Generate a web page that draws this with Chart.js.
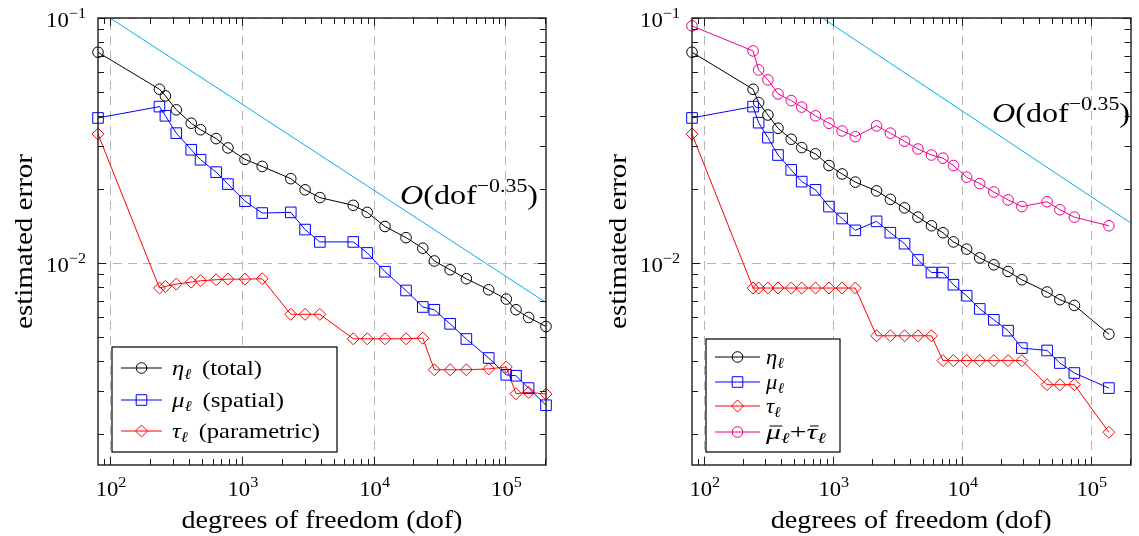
<!DOCTYPE html>
<html>
<head>
<meta charset="utf-8">
<script src="https://cdn.jsdelivr.net/npm/chart.js@4.4.1/dist/chart.umd.min.js"></script>
<style>
  html, body { margin: 0; padding: 0; background: #fff; }
  #wrap { position: relative; width: 1139px; height: 536px; }
  .box { position: absolute; top: 0; height: 536px; }
  #boxA { left: 0; width: 570px; }
  #boxB { left: 570px; width: 569px; }
</style>
</head>
<body>
<div id="wrap">
  <div class="box" id="boxA"><canvas id="chartA"></canvas></div>
  <div class="box" id="boxB"><canvas id="chartB"></canvas></div>
</div>
<script>
// left plot: degrees of freedom and estimators
const dofA = [81, 237, 263, 318, 413, 486, 638, 784, 1056, 1427, 2350, 3018, 3905, 7000, 8940,
  12190, 17600, 23590, 28850, 38040, 50500, 74640, 101400, 120200, 149800, 203000];
const etaA = [0.0725, 0.0512, 0.0481, 0.0422, 0.0372, 0.0350, 0.0322, 0.0295, 0.0265, 0.0248,
  0.0221, 0.0199, 0.0185, 0.0172, 0.0161, 0.0141, 0.0127, 0.0115, 0.0102, 0.00939, 0.00863,
  0.00778, 0.00713, 0.00645, 0.0060, 0.00551];
const muA = [0.0391, 0.0435, 0.0399, 0.0339, 0.0290, 0.0264, 0.0235, 0.0210, 0.0179, 0.0160,
  0.0161, 0.0137, 0.0122, 0.0122, 0.0110, 0.00922, 0.00773, 0.00662, 0.00645, 0.00565, 0.0049,
  0.0041, 0.0035, 0.00347, 0.00309, 0.00263];
const tauA = [0.0336, 0.00791, 0.00803, 0.00821, 0.00836, 0.00847, 0.00855, 0.0086, 0.0086,
  0.00863, 0.00618, 0.00618, 0.00618, 0.00491, 0.00491, 0.00491, 0.00491, 0.00494, 0.00367,
  0.00367, 0.00367, 0.0037, 0.00377, 0.00293, 0.00297, 0.00292];
const rateDofA = [100, 203000];
const rateErrA = [0.1, 0.0069];

// right plot
const dofB = [81, 241, 266, 314, 376, 476, 574, 734, 934, 1180, 1494, 2184, 2793, 3598, 4571,
  5817, 7146, 8612, 10900, 13770, 17710, 22820, 29190, 45800, 57550, 74540, 138000];
const etaB = [0.0725, 0.0512, 0.0452, 0.0402, 0.0355, 0.0320, 0.0296, 0.0279, 0.0250, 0.0231,
  0.0214, 0.0197, 0.0182, 0.0168, 0.0154, 0.0142, 0.0133, 0.0122, 0.0114, 0.0105, 0.00984,
  0.00924, 0.00855, 0.00762, 0.00709, 0.00672, 0.00513];
const muB = [0.0391, 0.0435, 0.0374, 0.0325, 0.0276, 0.0240, 0.0215, 0.0199, 0.0170, 0.0152,
  0.0136, 0.0148, 0.0133, 0.0120, 0.0103, 0.00915, 0.00915, 0.00816, 0.00736, 0.0065, 0.00587,
  0.0053, 0.0045, 0.0044, 0.00391, 0.00356, 0.00309];
const tauB = [0.0336, 0.00791, 0.00791, 0.00791, 0.00791, 0.00791, 0.00791, 0.00791, 0.00791,
  0.00791, 0.00791, 0.00505, 0.00505, 0.00505, 0.00505, 0.00505, 0.0040, 0.0040, 0.0040, 0.0040,
  0.0040, 0.0040, 0.0040, 0.00319, 0.00319, 0.00319, 0.00204];
const sumB = [0.0928, 0.0734, 0.0614, 0.0559, 0.0490, 0.0460, 0.0433, 0.0399, 0.0372, 0.0346,
  0.0328, 0.0363, 0.0339, 0.0314, 0.0292, 0.0276, 0.0268, 0.0250, 0.0224, 0.0211, 0.0195,
  0.0181, 0.0170, 0.0178, 0.0165, 0.0154, 0.0142];
const rateDofB = [830, 203000];
const rateErrB = [0.1, 0.0146];

// axes
const xRange = [81, 203000];
const yRange = [0.0015, 0.1];
const xTickVals = [1e2, 1e3, 1e4, 1e5];
const xTickExps = ['2', '3', '4', '5'];
const yTickVals = [1e-2, 1e-1];
const yTickExps = ['\u22122', '\u22121'];
const xTitle = 'degrees of freedom (dof)';
const yTitle = 'estimated error';

const SERIF = '"Liberation Serif", "Times New Roman", serif';
const STRETCH = 1.08;

function fontOf(r) {
  return (r.it ? 'italic ' : '') + r.size + 'px ' + SERIF;
}

function drawRuns(ctx, x, y, runs, opt) {
  opt = opt || {};
  let raw = 0;
  runs.forEach(r => {
    if (r.gap) { r._w = r.gap; raw += r.gap; return; }
    ctx.font = fontOf(r);
    r._w = ctx.measureText(r.t).width;
    raw += r._w;
  });
  const sx = opt.width ? opt.width / raw : STRETCH;
  ctx.save();
  ctx.translate(x, y);
  if (opt.rot) ctx.rotate(opt.rot);
  ctx.scale(sx, 1);
  ctx.fillStyle = opt.color || '#000';
  ctx.strokeStyle = opt.color || '#000';
  ctx.textBaseline = 'alphabetic';
  ctx.textAlign = 'left';
  let cx = opt.align === 'center' ? -raw / 2 : (opt.align === 'right' ? -raw : 0);
  runs.forEach(r => {
    if (!r.gap) {
      ctx.font = fontOf(r);
      const dy = r.dy || 0;
      ctx.fillText(r.t, cx, dy);
      if (r.bar) {
        const by = dy - r.size * 0.62;
        ctx.lineWidth = 1;
        ctx.beginPath();
        ctx.moveTo(cx + r.size * 0.12, by);
        ctx.lineTo(cx + r._w + r.size * 0.05, by);
        ctx.stroke();
      }
    }
    cx += r._w;
  });
  ctx.restore();
}

function marker(ctx, style, x, y, r, color) {
  ctx.save();
  ctx.strokeStyle = color;
  ctx.lineWidth = 1;
  ctx.beginPath();
  if (style === 'circle') {
    ctx.arc(x, y, r, 0, 2 * Math.PI);
  } else if (style === 'rect') {
    const h = r * Math.SQRT1_2;
    ctx.rect(x - h, y - h, 2 * h, 2 * h);
  } else {
    ctx.moveTo(x - r, y); ctx.lineTo(x, y - r); ctx.lineTo(x + r, y); ctx.lineTo(x, y + r);
    ctx.closePath();
  }
  ctx.stroke();
  ctx.restore();
}

function logTicks(min, max) {
  const major = [], minor = [];
  for (let e = Math.floor(Math.log10(min)); e <= Math.ceil(Math.log10(max)); e++) {
    for (let m = 1; m <= 9; m++) {
      const v = m * Math.pow(10, e);
      if (v < min * 0.999 || v > max * 1.001) continue;
      (m === 1 ? major : minor).push(v);
    }
  }
  return { major, minor };
}

function line(ctx, x1, y1, x2, y2) {
  ctx.beginPath();
  ctx.moveTo(x1, y1);
  ctx.lineTo(x2, y2);
  ctx.stroke();
}

// grid, frame, inward ticks, labels, legend and note
function makeDecor(cfg) {
  return {
    id: 'decor',
    beforeDatasetsDraw(chart) {
      const { ctx, chartArea: a, scales: { x, y } } = chart;
      ctx.save();
      ctx.strokeStyle = '#b4b4b4';
      ctx.lineWidth = 1;
      ctx.setLineDash([9, 6]);
      xTickVals.forEach(v => {
        const px = Math.round(x.getPixelForValue(v)) + 0.5;
        line(ctx, px, a.bottom, px, a.top);
      });
      yTickVals.forEach(v => {
        const py = Math.round(y.getPixelForValue(v)) + 0.5;
        line(ctx, a.left, py, a.right, py);
      });
      ctx.restore();
    },
    afterDatasetsDraw(chart) {
      const { ctx, chartArea: a, scales: { x, y } } = chart;
      ctx.save();
      ctx.strokeStyle = '#1a1a1a';
      ctx.lineWidth = 1;
      const xt = logTicks(x.min, x.max);
      const yt = logTicks(y.min, y.max);
      [[xt.minor, 6], [xt.major, 8]].forEach(([vals, len]) => vals.forEach(v => {
        const px = Math.round(x.getPixelForValue(v)) + 0.5;
        line(ctx, px, a.bottom, px, a.bottom - len);
        line(ctx, px, a.top, px, a.top + len);
      }));
      [[yt.minor, 6], [yt.major, 8]].forEach(([vals, len]) => vals.forEach(v => {
        const py = Math.round(y.getPixelForValue(v)) + 0.5;
        line(ctx, a.left, py, a.left + len, py);
        line(ctx, a.right, py, a.right - len, py);
      }));
      ctx.lineWidth = 1.4;
      ctx.strokeRect(Math.round(a.left), Math.round(a.top), Math.round(a.right - a.left), Math.round(a.bottom - a.top));
      ctx.restore();
    },
    afterDraw(chart) {
      const { ctx, chartArea: a, scales: { x, y } } = chart;
      const ds = chart.data.datasets;
      xTickVals.forEach((v, i) => {
        drawRuns(ctx, x.getPixelForValue(v) + 1, a.bottom + 31,
          [{ t: '10', size: 21 }, { t: xTickExps[i], size: 15, dy: -9 }], { align: 'center' });
      });
      yTickVals.forEach((v, i) => {
        drawRuns(ctx, a.left - 12, y.getPixelForValue(v) + 9,
          [{ t: '10', size: 21 }, { t: yTickExps[i], size: 15, dy: -9 }], { align: 'right' });
      });
      drawRuns(ctx, (a.left + a.right) / 2, a.bottom + 63, [{ t: xTitle, size: 25 }],
        { align: 'center', width: 281 });
      drawRuns(ctx, a.left - 66, (a.top + a.bottom) / 2, [{ t: yTitle, size: 25 }],
        { align: 'center', width: 175, rot: -Math.PI / 2 });

      const n = cfg.note;
      drawRuns(ctx, n.x, n.y, [
        { t: 'O', size: 28, it: true }, { t: '(dof', size: 28 },
        { t: '\u22120.35', size: 19, dy: -12 }, { t: ')', size: 28 }
      ], { width: n.w });

      const lg = cfg.legend;
      ctx.save();
      ctx.fillStyle = '#fff';
      ctx.fillRect(lg.box[0], lg.box[1], lg.box[2] - lg.box[0], lg.box[3] - lg.box[1]);
      ctx.strokeStyle = '#000';
      ctx.lineWidth = 1.2;
      ctx.strokeRect(lg.box[0], lg.box[1], lg.box[2] - lg.box[0], lg.box[3] - lg.box[1]);
      lg.rows.forEach((row, i) => {
        const d = ds[row.ds];
        const yc = lg.rowY[i];
        ctx.strokeStyle = d.borderColor;
        ctx.lineWidth = 1;
        line(ctx, lg.lineX[0], yc, lg.lineX[1], yc);
        marker(ctx, d.pointStyle, lg.markX, yc, d.pointRadius, d.borderColor);
        drawRuns(ctx, lg.textX, yc + 7, row.runs, row.w ? { width: row.w } : {});
      });
      ctx.restore();
    }
  };
}

function series(dof, err, label, color, style, radius) {
  return {
    label: label,
    data: dof.map((d, i) => ({ x: d, y: err[i] })),
    borderColor: color,
    borderWidth: 1,
    tension: 0,
    fill: false,
    clip: false,
    pointStyle: style,
    pointRadius: radius,
    pointHoverRadius: radius,
    pointBorderColor: color,
    pointBorderWidth: 1,
    pointBackgroundColor: 'rgba(0,0,0,0)'
  };
}

function rateLine(dof, err) {
  return {
    label: 'rate',
    data: dof.map((d, i) => ({ x: d, y: err[i] })),
    borderColor: '#00aeef',
    borderWidth: 1,
    pointRadius: 0,
    tension: 0,
    fill: false
  };
}

function makeChart(id, datasets, yWidth, padRight, cfg) {
  return new Chart(document.getElementById(id), {
    type: 'line',
    data: { datasets: datasets },
    options: {
      responsive: true,
      maintainAspectRatio: false,
      animation: false,
      events: [],
      layout: { padding: { left: 0, top: 18, right: padRight, bottom: 0 } },
      plugins: { legend: { display: false }, tooltip: { enabled: false } },
      scales: {
        x: {
          type: 'logarithmic', min: xRange[0], max: xRange[1],
          grid: { display: false }, border: { display: false }, ticks: { display: false },
          afterFit: s => { s.height = 71; }
        },
        y: {
          type: 'logarithmic', min: yRange[0], max: yRange[1],
          grid: { display: false }, border: { display: false }, ticks: { display: false },
          afterFit: s => { s.width = yWidth; }
        }
      }
    },
    plugins: [makeDecor(cfg)]
  });
}

const sub = t => ({ t: t, size: 15, it: true, dy: 4 });
const gr = t => ({ t: t, size: 21, it: true });

makeChart('chartA', [
  rateLine(rateDofA, rateErrA),
  series(dofA, etaA, 'eta', '#000000', 'circle', 5.3),
  series(dofA, muA, 'mu', '#0000ff', 'rect', 7.5),
  series(dofA, tauA, 'tau', '#ff0000', 'rectRot', 6)
], 98, 24, {
  note: { x: 400, y: 204, w: 138 },
  legend: {
    box: [112, 347, 337, 452],
    rowY: [368, 400, 431],
    lineX: [121, 162], markX: 141.5, textX: 172,
    rows: [
      { ds: 1, w: 90, runs: [gr('\u03b7'), sub('\u2113'), { gap: 9 }, { t: '(total)', size: 21 }] },
      { ds: 2, w: 112, runs: [gr('\u03bc'), sub('\u2113'), { gap: 9 }, { t: '(spatial)', size: 21 }] },
      { ds: 3, w: 148, runs: [gr('\u03c4'), sub('\u2113'), { gap: 9 }, { t: '(parametric)', size: 21 }] }
    ]
  }
});

makeChart('chartB', [
  rateLine(rateDofB, rateErrB),
  series(dofB, etaB, 'eta', '#000000', 'circle', 5.3),
  series(dofB, muB, 'mu', '#0000ff', 'rect', 7.5),
  series(dofB, tauB, 'tau', '#ff0000', 'rectRot', 6),
  series(dofB, sumB, 'sum', '#ec008c', 'circle', 5.3)
], 122, 2, {
  note: { x: 422, y: 122, w: 138 },
  legend: {
    box: [136, 339, 270, 452],
    rowY: [357, 382, 406, 432],
    lineX: [145, 190], markX: 167.5, textX: 196,
    rows: [
      { ds: 1, runs: [gr('\u03b7'), sub('\u2113')] },
      { ds: 2, runs: [gr('\u03bc'), sub('\u2113')] },
      { ds: 3, runs: [gr('\u03c4'), sub('\u2113')] },
      { ds: 4, w: 60, runs: [Object.assign(gr('\u03bc'), { bar: true }), sub('\u2113'),
        { t: '+', size: 21 }, Object.assign(gr('\u03c4'), { bar: true }), sub('\u2113')] }
    ]
  }
});
</script>
</body>
</html>
